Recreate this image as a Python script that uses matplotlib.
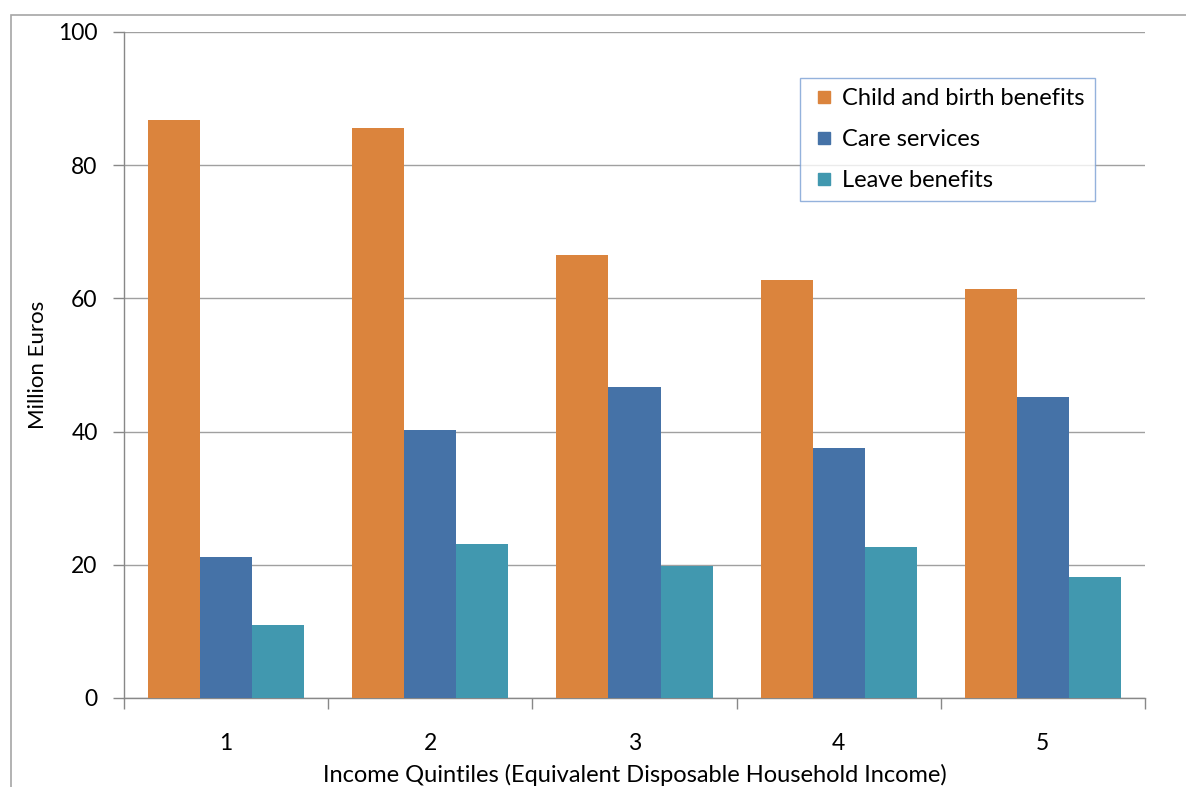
import numpy as np
import matplotlib.pyplot as plt
from matplotlib.patches import Rectangle
from matplotlib.lines import Line2D

plt.rcParams['font.family'] = ['Lato', 'DejaVu Sans']

quintiles = ['1', '2', '3', '4', '5']
child_birth = [86.8, 85.6, 66.5, 62.8, 61.4]
care = [21.2, 40.2, 46.7, 37.5, 45.2]
leave = [11.0, 23.1, 19.8, 22.7, 18.2]

series_names = ['Child and birth benefits', 'Care services', 'Leave benefits']
colors = ['#DB843D', '#4572A7', '#4198AF']

fig = plt.figure(figsize=(11.86, 7.87), dpi=100)
ax = fig.add_axes([124 / 1186, 1 - 698 / 787, (1145 - 124) / 1186, (698 - 32) / 787])

# outer chart frame (runs off the right and bottom edge)
fig.patches.append(Rectangle((11 / 1186, -0.1), 1.2, 1 - 15 / 787 + 0.1,
                             transform=fig.transFigure, fill=False,
                             edgecolor='#A6A6A6', linewidth=1.2))

x = np.arange(len(quintiles))
w = 0.255
for i, (vals, name, c) in enumerate(zip([child_birth, care, leave], series_names, colors)):
    ax.bar(x + (i - 1) * w, vals, w, color=c, label=name, zorder=3)

ax.set_xlim(-0.5, 4.5)
ax.set_ylim(0, 100)
ax.set_yticks(range(0, 101, 20))
ax.set_xticks(x)
ax.set_xticklabels(quintiles)
ax.set_xticks(np.arange(-0.5, 5, 1), minor=True)
ax.tick_params(axis='x', which='major', length=0, pad=25, labelsize=16.5)
ax.tick_params(axis='x', which='minor', length=8, color='#888888', width=1)
ax.tick_params(axis='y', length=8, color='#888888', width=1, labelsize=16.5, pad=11)
ax.grid(axis='y', color='#A0A0A0', linewidth=1, zorder=0)
ax.set_axisbelow(True)
for s in ['top', 'right']:
    ax.spines[s].set_visible(False)
for s in ['left', 'bottom']:
    ax.spines[s].set_color('#888888')
    ax.spines[s].set_linewidth(1)

ax.set_ylabel('Million Euros', fontsize=16)
ax.yaxis.set_label_coords((48 - 124) / 1021, 0.5)
ax.set_xlabel('Income Quintiles (Equivalent Disposable Household Income)', fontsize=17)
ax.xaxis.set_label_coords(0.5, -(775 - 698) / 666)
ax.xaxis.label.set_va('center')

handles = [Line2D([], [], linestyle='none', marker='s', markersize=9, markerfacecolor=c,
                  markeredgecolor=c) for c in colors]
leg = ax.legend(handles, series_names, loc='upper left',
                bbox_to_anchor=((800 - 124) / 1021, 1 - (78 - 32) / 666),
                frameon=True, fancybox=False, fontsize=17, handlelength=1.2,
                labelspacing=0.85, borderpad=0.43, handletextpad=0.15, borderaxespad=0)
leg.get_frame().set_edgecolor('#7A9FD4')
leg.get_frame().set_linewidth(1)

fig.savefig('out.png', dpi=100)
